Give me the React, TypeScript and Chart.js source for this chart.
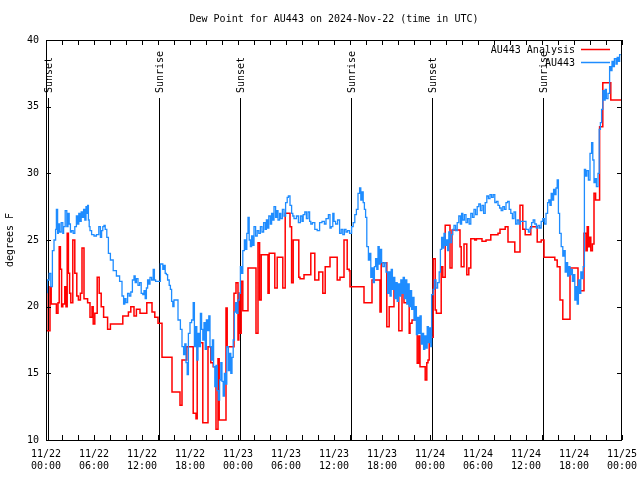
import React, { useEffect, useRef } from "react";
import { Chart, registerables } from "chart.js";

Chart.register(...registerables);

const FONT_FAMILY = "'DejaVu Sans Mono', 'Liberation Mono', monospace";
const FONT = "10px " + FONT_FAMILY;

const titleText = "Dew Point for AU443 on 2024-Nov-22 (time in UTC)";
const yAxisTitle = "degrees F";
const seriesNames = ["AU443 Analysis", "AU443"];
const seriesColors = ["#ff0000", "#1e8cff"];

// x axis: hours since 11/22 00:00 UTC
const xTickHours = [0, 6, 12, 18, 24, 30, 36, 42, 48, 54, 60, 66, 72];
const xTickLabels = [
  "11/22\n00:00", "11/22\n06:00", "11/22\n12:00", "11/22\n18:00",
  "11/23\n00:00", "11/23\n06:00", "11/23\n12:00", "11/23\n18:00",
  "11/24\n00:00", "11/24\n06:00", "11/24\n12:00", "11/24\n18:00",
  "11/25\n00:00",
];
const xMinorStep = 2;
const yTickValues = [10, 15, 20, 25, 30, 35, 40];

const sunHours = [0.27, 14.12, 24.27, 38.12, 48.27, 62.12];
const sunLabels = ["Sunset", "Sunrise", "Sunset", "Sunrise", "Sunset", "Sunrise"];

// AU443 Analysis (red)
const analysisHours = [
  0.1, 0.5, 0.65, 1.3, 1.5, 1.65, 1.8, 1.95, 2.1, 2.35,
  2.5, 2.65, 2.8, 2.95, 3.1, 3.35, 3.6, 3.85, 4.05, 4.3,
  4.5, 4.75, 5.2, 5.5, 5.75, 5.9, 6.1, 6.4, 6.65, 6.9,
  7.2, 7.7, 8.05, 9.6, 10.3, 10.6, 11.0, 11.3, 11.75, 12.6,
  13.25, 13.6, 14.0, 14.5, 15.75, 16.75, 17.0, 17.6, 18.4, 18.75,
  18.9, 19.6, 20.25, 20.6, 20.9, 21.25, 21.5, 21.65, 22.5, 22.65,
  23.5, 23.75, 24.0, 24.1, 24.2, 24.4, 24.6, 25.25, 26.25, 26.5,
  26.7, 26.9, 27.75, 27.9, 28.6, 28.9, 29.6, 29.9, 30.5, 30.7,
  30.9, 31.6, 31.75, 32.25, 33.1, 33.6, 34.1, 34.6, 34.9, 35.5,
  36.4, 36.75, 37.25, 37.65, 37.9, 38.0, 39.75, 40.75, 41.75, 41.9,
  42.6, 42.9, 43.5, 43.65, 44.1, 44.5, 44.75, 45.4, 45.5, 45.75,
  46.4, 46.6, 46.75, 47.4, 47.6, 47.75, 47.9, 48.4, 48.65, 48.8,
  49.4, 49.6, 49.9, 50.5, 50.75, 51.75, 51.9, 52.25, 52.6, 52.85,
  53.1, 53.6, 53.8, 54.5, 55.0, 55.6, 56.5, 56.75, 57.4, 57.75,
  58.6, 59.25, 59.6, 59.9, 60.6, 61.4, 61.9, 62.25, 63.6, 63.9,
  64.25, 64.6, 65.5, 66.5, 67.25, 67.5, 67.65, 67.8, 67.95, 68.1,
  68.3, 68.5, 68.7, 69.2, 69.6, 70.6, 70.7, 71.9,
];
const analysisValues = [
  21.5, 18.2, 21.5, 20.2, 19.5, 20.3, 24.5, 22.8, 20.0, 20.2,
  21.5, 20.0, 25.5, 22.5, 21.0, 20.3, 25.0, 22.5, 20.8, 20.5,
  21.0, 24.4, 20.6, 20.3, 19.2, 20.0, 18.7, 19.5, 22.2, 21.0,
  20.0, 19.2, 18.3, 18.7, 19.3, 19.6, 20.0, 19.3, 19.8, 19.5,
  20.3, 19.6, 19.2, 18.75, 16.2, 13.6, 12.6, 16.0, 17.0, 12.0,
  11.6, 17.3, 11.3, 17.0, 15.8, 15.5, 10.8, 16.1, 11.5, 19.9,
  17.0, 21.0, 21.8, 17.5, 21.0, 18.0, 21.9, 19.7, 22.9, 18.0,
  24.8, 20.5, 23.9, 21.0, 24.0, 21.4, 23.7, 21.4, 27.0, 26.0,
  21.8, 25.0, 22.2, 22.1, 22.4, 24.0, 22.0, 22.6, 21.0, 23.0,
  23.7, 22.0, 22.2, 25.0, 22.8, 22.7, 21.5, 20.3, 22.0, 19.6,
  23.3, 18.5, 20.0, 21.5, 20.7, 18.2, 21.5, 20.3, 18.0, 18.75,
  19.0, 15.75, 17.8, 15.5, 14.5, 15.8, 16.0, 17.7, 23.6, 19.75,
  19.5, 23.0, 22.2, 26.1, 22.9, 25.75, 24.5, 23.0, 24.7, 22.4,
  22.9, 25.1, 25.0, 25.1, 24.9, 25.0, 25.4, 25.5, 25.8, 26.0,
  24.85, 24.1, 27.6, 25.8, 25.4, 26.0, 24.85, 25.0, 23.7, 23.5,
  23.0, 20.5, 19.05, 22.9, 21.2, 25.5, 24.2, 26.0, 24.5, 25.2,
  24.2, 24.7, 28.5, 28.0, 33.5, 36.8, 35.5, 35.5,
];

// AU443 observations (blue)
const obsHours = [
  0.15, 0.4, 0.6, 0.8, 1.0, 1.2, 1.3, 1.45, 1.55, 1.7,
  1.9, 2.1, 2.2, 2.4, 2.6, 2.75, 2.9, 3.05, 3.2, 3.4,
  3.6, 3.8, 3.95, 4.1, 4.25, 4.4, 4.55, 4.7, 4.85, 5.0,
  5.1, 5.2, 5.3, 5.4, 5.5, 5.7, 6.0, 6.3, 6.6, 6.8,
  6.95, 7.1, 7.25, 7.4, 7.6, 7.8, 8.05, 8.4, 8.8, 9.2,
  9.5, 9.7, 9.85, 10.0, 10.2, 10.4, 10.6, 10.8, 11.0, 11.15,
  11.3, 11.5, 11.7, 11.9, 12.1, 12.25, 12.4, 12.55, 12.7, 12.85,
  13.0, 13.2, 13.4, 13.55, 13.7, 13.9, 14.3, 14.6, 14.75, 14.9,
  15.05, 15.2, 15.4, 15.55, 15.7, 15.85, 16.0, 16.2, 16.5, 16.8,
  17.0, 17.2, 17.35, 17.5, 17.65, 17.8, 18.0, 18.2, 18.4, 18.55,
  18.7, 18.85, 19.0, 19.15, 19.3, 19.45, 19.6, 19.75, 19.9, 20.05,
  20.2, 20.35, 20.5, 20.65, 20.8, 20.95, 21.1, 21.25, 21.4, 21.55,
  21.7, 21.85, 22.0, 22.15, 22.3, 22.45, 22.6, 22.8, 22.95, 23.1,
  23.25, 23.4, 23.55, 23.7, 23.85, 24.0, 24.15, 24.3, 24.45, 24.6,
  24.8, 24.95, 25.1, 25.25, 25.4, 25.55, 25.7, 25.85, 26.0, 26.2,
  26.4, 26.6, 26.8, 27.0, 27.2, 27.4, 27.55, 27.7, 27.85, 28.05,
  28.2, 28.35, 28.5, 28.7, 28.85, 29.0, 29.2, 29.35, 29.55, 29.75,
  29.95, 30.15, 30.3, 30.5, 30.7, 30.85, 31.0, 31.3, 31.55, 31.8,
  32.0, 32.15, 32.35, 32.55, 32.75, 32.95, 33.1, 33.3, 33.6, 33.9,
  34.2, 34.5, 34.8, 35.0, 35.3, 35.5, 35.65, 35.85, 36.0, 36.2,
  36.45, 36.7, 36.9, 37.1, 37.3, 37.5, 37.7, 37.95, 38.2, 38.4,
  38.6, 38.8, 39.0, 39.2, 39.35, 39.5, 39.65, 39.8, 39.95, 40.1,
  40.3, 40.45, 40.6, 40.75, 40.9, 41.05, 41.2, 41.35, 41.5, 41.65,
  41.8, 41.95, 42.1, 42.3, 42.5, 42.7, 42.85, 43.0, 43.15, 43.3,
  43.45, 43.6, 43.75, 43.9, 44.05, 44.2, 44.35, 44.5, 44.65, 44.8,
  44.95, 45.1, 45.25, 45.4, 45.55, 45.7, 45.85, 46.0, 46.15, 46.3,
  46.45, 46.6, 46.75, 46.9, 47.05, 47.2, 47.35, 47.5, 47.65, 47.8,
  47.95, 48.1, 48.2, 48.4, 48.55, 48.75, 48.95, 49.15, 49.3, 49.45,
  49.6, 49.75, 49.9, 50.05, 50.2, 50.35, 50.5, 50.7, 50.85, 51.0,
  51.2, 51.4, 51.6, 51.8, 51.95, 52.1, 52.3, 52.5, 52.7, 52.9,
  53.1, 53.3, 53.5, 53.7, 53.9, 54.1, 54.3, 54.5, 54.7, 54.9,
  55.1, 55.3, 55.5, 55.7, 55.9, 56.1, 56.3, 56.5, 56.7, 56.9,
  57.1, 57.3, 57.5, 57.7, 57.9, 58.1, 58.3, 58.5, 58.7, 58.9,
  59.1, 59.3, 59.6, 60.0, 60.3, 60.5, 60.7, 60.9, 61.1, 61.3,
  61.5, 61.7, 61.9, 62.1, 62.3, 62.5, 62.7, 62.85, 63.0, 63.15,
  63.3, 63.45, 63.6, 63.75, 63.9, 64.05, 64.2, 64.4, 64.6, 64.75,
  64.9, 65.05, 65.2, 65.35, 65.5, 65.65, 65.8, 65.95, 66.1, 66.25,
  66.4, 66.55, 66.7, 66.85, 67.0, 67.15, 67.3, 67.45, 67.6, 67.8,
  68.0, 68.2, 68.35, 68.5, 68.65, 68.8, 69.0, 69.15, 69.3, 69.45,
  69.6, 69.75, 69.9, 70.05, 70.25, 70.45, 70.6, 70.75, 70.9, 71.05,
  71.25, 71.4, 71.55, 71.7, 71.85,
];
const obsValues = [
  21.0, 22.0, 22.5, 21.5, 24.2, 25.0, 25.8, 27.3, 25.5, 26.2,
  25.6, 26.3, 25.5, 26.0, 27.2, 26.0, 27.0, 26.2, 25.6, 25.7,
  25.5, 26.0, 26.8, 26.2, 27.0, 26.4, 27.1, 26.7, 27.3, 26.5,
  27.5, 27.0, 27.6, 26.5, 26.0, 25.7, 25.4, 25.3, 25.4, 26.0,
  25.2, 25.7, 26.0, 26.1, 25.8, 25.2, 24.0, 23.5, 22.7, 22.3,
  21.9, 20.8, 20.2, 20.6, 20.3, 21.0, 20.8, 21.1, 22.0, 22.3,
  21.8, 22.1, 21.6, 21.8, 21.0, 20.9, 21.2, 20.6, 21.4, 22.0,
  21.7, 22.2, 22.0, 22.8, 22.0, 21.9, 21.9, 23.2, 22.8, 23.1,
  22.5, 22.4, 22.0, 21.6, 21.3, 20.4, 20.0, 20.5, 20.5, 19.0,
  18.3, 17.0, 16.4, 17.2, 15.8, 14.9, 18.0, 18.8, 19.0, 20.3,
  17.0, 18.5, 16.0, 18.0, 17.0, 19.5, 18.3, 17.5, 18.8, 16.8,
  19.0, 18.2, 19.3, 17.0, 16.0, 17.5, 15.5, 14.0, 15.6, 13.7,
  13.0, 14.5, 15.8, 14.4, 13.3, 15.0, 14.2, 17.0, 15.2, 16.5,
  15.0, 16.2, 17.5, 19.6, 20.3, 19.5, 20.5, 21.0, 23.0, 22.5,
  24.2, 25.0, 24.3, 25.5, 26.7, 25.0, 24.5, 25.3, 24.6, 26.0,
  25.3, 25.7, 25.5, 26.0, 25.6, 26.3, 25.8, 26.5, 25.9, 26.8,
  26.2, 27.0, 26.5, 27.5, 26.7, 27.2, 26.5, 27.0, 26.6, 27.3,
  26.8, 27.8, 28.2, 28.3, 27.6, 27.0, 26.8, 26.6, 26.8, 26.3,
  26.8, 26.4, 26.9, 27.1, 26.6, 27.1, 26.4, 26.2, 26.3, 25.8,
  25.7, 26.3, 26.4, 26.2, 26.6, 26.9, 25.9, 26.0, 27.0, 26.4,
  26.2, 26.5, 25.5, 25.8, 25.4, 25.8, 25.6, 25.7, 25.5, 26.0,
  26.3, 26.9, 27.3, 28.5, 28.9, 28.0, 28.6, 27.8, 27.3, 26.7,
  24.5, 23.5, 24.0, 22.2, 22.9, 21.8, 23.0, 23.6, 22.8, 24.5,
  23.2, 24.3, 23.3, 23.0, 23.3, 22.6, 21.0, 22.6, 20.8, 22.8,
  21.3, 22.2, 20.6, 21.8, 20.4, 21.7, 20.8, 22.0, 21.0, 22.2,
  20.6, 22.0, 20.2, 21.7, 20.0, 21.2, 19.8, 20.7, 19.0, 20.0,
  17.9, 19.2, 18.0, 19.3, 17.2, 18.0, 16.8, 17.8, 16.9, 18.5,
  17.3, 18.4, 17.0, 20.9, 21.3, 22.0, 21.4, 21.8, 22.6, 24.3,
  25.2, 24.4, 25.5, 24.6, 25.0, 24.2, 25.6, 24.8, 25.4, 25.8,
  26.1, 25.7, 26.3, 26.8, 26.2, 27.0, 26.5, 26.9, 26.3, 26.6,
  26.2, 27.0, 26.7, 27.3, 26.9, 27.5, 27.7, 27.2, 27.6, 27.0,
  27.8, 28.3, 28.1, 28.4, 28.2, 28.4, 27.8, 27.9, 27.6, 27.4,
  27.2, 27.5, 27.3, 27.8, 27.9, 27.3, 27.0, 26.6, 27.1, 26.2,
  26.5, 26.2, 26.4, 26.4, 25.8, 25.6, 25.9, 26.3, 26.5, 26.2,
  25.9, 26.1, 25.9, 26.4, 26.6, 26.2, 27.0, 27.8, 28.0, 27.6,
  28.5, 28.0, 28.8, 28.4, 28.9, 29.5, 27.0, 25.5, 24.5, 23.8,
  24.2, 22.6, 23.3, 22.3, 23.0, 22.4, 22.8, 21.9, 22.4, 20.5,
  21.5, 20.2, 22.0, 21.0, 22.6, 22.1, 23.0, 30.3, 29.8, 30.2,
  29.5, 31.5, 32.3, 31.0, 29.3, 29.6, 29.0, 30.0, 33.3, 33.8,
  34.8, 36.2, 35.5, 36.3, 35.6, 36.0, 38.0, 37.7, 38.4, 38.0,
  38.6, 38.2, 38.7, 38.4, 38.9,
];

function toPoints(hours: number[], values: number[]) {
  return hours.map((h, i) => ({ x: h, y: values[i] }));
}

const overlayPlugin = {
  id: "gnuplotOverlay",
  beforeDatasetsDraw(chart: any) {
    const { ctx, chartArea: a, scales } = chart;
    const xs = scales.x;
    ctx.save();
    ctx.strokeStyle = "#000";
    ctx.fillStyle = "#000";
    ctx.lineWidth = 1;
    ctx.font = FONT;
    sunHours.forEach((h, i) => {
      const px = Math.round(xs.getPixelForValue(h)) + 0.5;
      ctx.beginPath();
      ctx.moveTo(px, a.top + 58);
      ctx.lineTo(px, a.bottom);
      ctx.stroke();
      ctx.save();
      ctx.translate(px + 1, a.top + 53);
      ctx.rotate(-Math.PI / 2);
      ctx.textAlign = "left";
      ctx.textBaseline = "middle";
      ctx.fillText(sunLabels[i], 0, 0);
      ctx.restore();
    });
    ctx.restore();
  },
  afterDraw(chart: any) {
    const { ctx, chartArea: a, scales } = chart;
    const xs = scales.x;
    const ys = scales.y;
    ctx.save();
    ctx.strokeStyle = "#000";
    ctx.fillStyle = "#000";
    ctx.lineWidth = 1;
    // frame
    ctx.strokeRect(a.left + 0.5, a.top + 0.5, a.right - a.left - 1, a.bottom - a.top);
    // x ticks (every 2 hours), bottom and top, pointing inward
    ctx.beginPath();
    for (let h = xs.min; h <= xs.max + 1e-9; h += xMinorStep) {
      const px = Math.round(xs.getPixelForValue(h)) + 0.5;
      ctx.moveTo(px, a.bottom);
      ctx.lineTo(px, a.bottom - 5);
      ctx.moveTo(px, a.top);
      ctx.lineTo(px, a.top + 5);
    }
    yTickValues.forEach((v) => {
      const py = Math.round(ys.getPixelForValue(v)) + 0.5;
      ctx.moveTo(a.left, py);
      ctx.lineTo(a.left + 5, py);
      ctx.moveTo(a.right, py);
      ctx.lineTo(a.right - 5, py);
    });
    ctx.stroke();

    ctx.font = FONT;
    // title
    ctx.textAlign = "center";
    ctx.textBaseline = "middle";
    ctx.fillText(titleText, (a.left + a.right) / 2, 19);
    // y axis title
    ctx.save();
    ctx.translate(10, (a.top + a.bottom) / 2);
    ctx.rotate(-Math.PI / 2);
    ctx.fillText(yAxisTitle, 0, 0);
    ctx.restore();
    // legend
    ctx.textAlign = "right";
    seriesNames.forEach((name, i) => {
      const y = a.top + 10 + i * 13;
      ctx.fillStyle = "#000";
      ctx.fillText(name, a.right - 47, y);
      ctx.strokeStyle = seriesColors[i];
      ctx.lineWidth = 1.5;
      ctx.beginPath();
      ctx.moveTo(a.right - 41, y - 0.5);
      ctx.lineTo(a.right - 12, y - 0.5);
      ctx.stroke();
    });
    ctx.restore();
  },
};

export default function App() {
  const canvasRef = useRef<HTMLCanvasElement | null>(null);

  useEffect(() => {
    document.body.style.margin = "0";
    const canvas = canvasRef.current;
    if (!canvas) return;
    const chart = new Chart(canvas, {
      type: "line",
      data: {
        datasets: [
          {
            label: seriesNames[0],
            data: toPoints(analysisHours, analysisValues),
            borderColor: seriesColors[0],
            backgroundColor: seriesColors[0],
            borderWidth: 1.5,
            pointRadius: 0,
            stepped: "after",
            fill: false,
            order: 2,
          },
          {
            label: seriesNames[1],
            data: toPoints(obsHours, obsValues),
            borderColor: seriesColors[1],
            backgroundColor: seriesColors[1],
            borderWidth: 1.3,
            pointRadius: 0,
            stepped: "after",
            fill: false,
            order: 1,
          },
        ],
      },
      options: {
        animation: false,
        responsive: false,
        maintainAspectRatio: false,
        devicePixelRatio: 1,
        layout: { padding: { top: 40, right: 18, left: 0, bottom: 0 } },
        plugins: {
          legend: { display: false },
          title: { display: false },
          tooltip: { enabled: false },
        },
        scales: {
          x: {
            type: "linear",
            min: 0,
            max: 72,
            grid: { display: false, drawTicks: false, tickLength: 0 },
            border: { display: false },
            afterBuildTicks: (scale: any) => {
              scale.ticks = xTickHours.map((v) => ({ value: v }));
            },
            afterFit: (scale: any) => {
              scale.height = 40;
              scale.paddingLeft = 0;
              scale.paddingRight = 0;
            },
            ticks: {
              autoSkip: false,
              maxRotation: 0,
              minRotation: 0,
              padding: 8,
              color: "#000",
              font: { family: FONT_FAMILY, size: 10, lineHeight: 1.2 },
              callback: (value: any) => {
                const i = xTickHours.indexOf(Number(value));
                return i >= 0 ? xTickLabels[i].split("\n") : "";
              },
            },
          },
          y: {
            type: "linear",
            min: 10,
            max: 40,
            grid: { display: false, drawTicks: false, tickLength: 0 },
            border: { display: false },
            afterBuildTicks: (scale: any) => {
              scale.ticks = yTickValues.map((v) => ({ value: v }));
            },
            afterFit: (scale: any) => {
              scale.width = 46;
              scale.paddingTop = 0;
              scale.paddingBottom = 0;
            },
            ticks: {
              padding: 7,
              color: "#000",
              font: { family: FONT_FAMILY, size: 10 },
              callback: (value: any) => String(value),
            },
          },
        },
      },
      plugins: [overlayPlugin],
    });
    return () => chart.destroy();
  }, []);

  return (
    <div style={{ position: "fixed", left: 0, top: 0, width: 640, height: 480, background: "#fff" }}>
      <canvas ref={canvasRef} width={640} height={480} style={{ width: 640, height: 480, display: "block" }} />
    </div>
  );
}
